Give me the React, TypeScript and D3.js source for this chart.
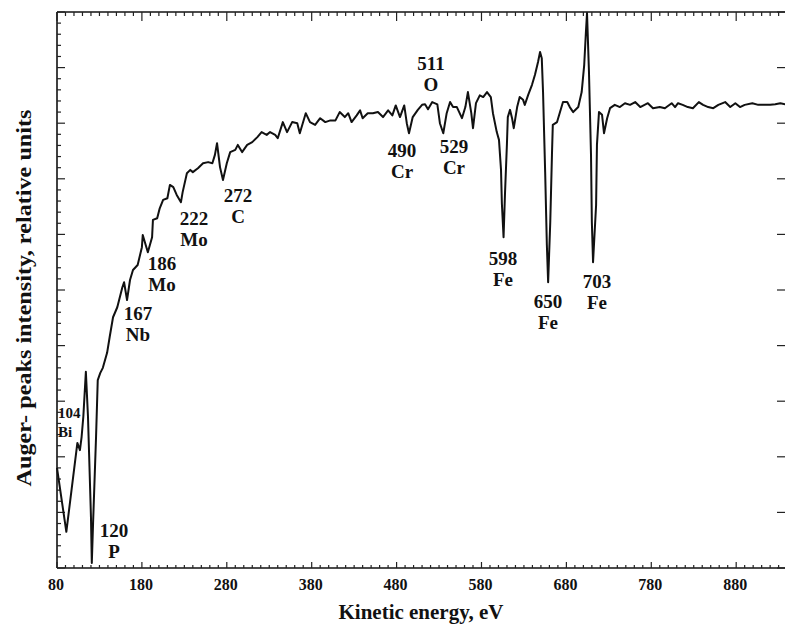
import React from 'react';
import * as d3 from 'd3';

// Auger spectrum (kinetic energy, eV / relative intensity)
const energy = [
  80, 91, 104, 107, 109, 111, 114, 116.5, 120, 121, 122.5, 126, 128, 131, 134, 139, 142, 146, 151, 157,
  159, 162.5, 166, 169.5, 175, 180, 181, 187, 192, 193, 198, 201, 205, 210, 213, 217, 221, 226, 228, 233,
  237, 240, 246, 252, 258, 263, 266, 268.5, 272, 275.5, 280, 284, 290, 293, 298, 304, 310, 316, 321, 327,
  331, 337, 340, 346, 351, 357, 363, 366, 373, 378, 384, 390, 396, 402, 408, 413, 419, 423, 427, 433,
  437, 440, 446, 452, 458, 464, 470, 475, 479, 484, 489, 492, 494.6, 499, 505, 510, 513.5, 517, 522, 528,
  531, 535, 539, 543, 546.5, 551, 557, 561, 564, 568, 570, 573.5, 578, 582, 586.5, 591, 593.5, 598, 600.6, 603,
  604, 606, 607.7, 610, 611, 613.6, 616, 618, 622, 625, 629, 631, 635, 639.5, 643, 646.6, 649, 651, 652.5, 655,
  657, 658.5, 661, 663, 664, 669, 672.5, 676, 681, 684, 688, 694, 698, 701, 703, 704.3, 706.6, 709, 710, 711.4,
  715, 716, 718.4, 722, 724.3, 728, 731.4, 737, 743, 749, 755, 761, 767, 776, 782, 790, 796, 804, 808, 811.5,
  817, 823, 829, 836, 841, 847, 853, 859, 867, 873, 879, 884.5, 890, 899, 906, 914, 920, 926, 932, 938,
];
const intensity = [
  1.8, 0.65, 2.25, 2.12, 2.36, 2.72, 3.53, 2.72, 0.92, 0.09, 0.81, 2.36, 3.38, 3.51, 3.6, 3.87, 4.15, 4.51, 4.69, 5.05,
  5.14, 4.82, 5.18, 5.36, 5.45, 5.77, 5.99, 5.68, 5.95, 6.26, 6.29, 6.47, 6.62, 6.65, 6.89, 6.85, 6.71, 6.58, 6.76, 7.1,
  7.16, 7.12, 7.19, 7.28, 7.3, 7.28, 7.43, 7.64, 7.21, 6.98, 7.28, 7.48, 7.52, 7.61, 7.48, 7.61, 7.66, 7.75, 7.84, 7.79,
  7.84, 7.79, 7.73, 8.02, 7.84, 8.02, 8.0, 7.82, 8.18, 8.02, 7.97, 8.09, 8.02, 8.05, 8.05, 8.2, 8.11, 8.18, 8.02, 8.14,
  8.23, 8.09, 8.18, 8.18, 8.2, 8.11, 8.23, 8.14, 8.32, 8.11, 8.32, 8.0, 7.82, 8.11, 8.24, 8.33, 8.34, 8.25, 8.38, 8.34,
  8.0, 7.82, 8.18, 8.38, 8.29, 8.29, 8.09, 8.29, 8.56, 8.18, 7.91, 8.36, 8.5, 8.47, 8.56, 8.47, 8.18, 7.84, 7.7, 7.16,
  6.56, 5.95, 6.74, 7.64, 8.11, 8.24, 8.09, 7.91, 8.29, 8.47, 8.42, 8.33, 8.51, 8.69, 8.87, 9.1, 9.28, 9.17, 8.56, 7.12,
  5.81, 5.14, 6.22, 7.43, 7.97, 8.02, 8.2, 8.38, 8.38, 8.29, 8.2, 8.29, 8.56, 9.05, 9.64, 9.98, 8.92, 7.43, 6.22, 5.5,
  6.53, 7.61, 8.2, 8.15, 7.82, 8.09, 8.27, 8.33, 8.29, 8.36, 8.33, 8.38, 8.29, 8.36, 8.27, 8.29, 8.27, 8.36, 8.29, 8.36,
  8.33, 8.29, 8.27, 8.38, 8.33, 8.29, 8.27, 8.33, 8.38, 8.29, 8.36, 8.29, 8.33, 8.36, 8.33, 8.33, 8.33, 8.34, 8.36, 8.34,
];

// peak annotations: energy label, element, and where the label sits (data units)
const peakLabels = ['104', '120', '167', '186', '222', '272', '490', '511', '529', '598', '650', '703'];
const peakElements = ['Bi', 'P', 'Nb', 'Mo', 'Mo', 'C', 'Cr', 'O', 'Cr', 'Fe', 'Fe', 'Fe'];
const labelAtEnergy = [81.2, 147.1, 175.4, 203.7, 241.4, 293.2, 486.4, 520.5, 547.6, 605.3, 658.3, 716.1];
const labelAtIntensity = [2.7, 0.56, 4.46, 5.36, 6.17, 6.58, 7.39, 8.96, 7.46, 5.45, 4.68, 5.04];

const xTickLabels = ['80', '180', '280', '380', '480', '580', '680', '780', '880'];

const W = 785;
const H = 625;
const margin = { top: 12, right: 0, bottom: 57, left: 57 };
const font = '"Liberation Serif", "Times New Roman", serif';

export default function App() {
  const x = d3.scaleLinear().domain([80, 937.5]).range([margin.left, W - margin.right]);
  const y = d3.scaleLinear().domain([0, 10]).range([H - margin.bottom, margin.top]);

  const line = d3
    .line<number>()
    .x((_, i) => x(energy[i]))
    .y((d) => y(d));

  const xMinor = d3.range(80, 940, 10);
  const xMajor = xTickLabels.map(Number);
  const yMinor = d3.range(0, 10.001, 0.2);
  const yMajor = d3.range(0, 11, 1);

  const [x0, x1] = x.range();
  const [yb, yt] = y.range();

  return (
    <svg
      width={W}
      height={H}
      style={{ position: 'absolute', left: 0, top: 0, background: '#fff' }}
      fontFamily={font}
    >
      {/* frame */}
      <g stroke="#111" strokeWidth={1.6} fill="none">
        <line x1={x0} y1={yt} x2={x1} y2={yt} />
        <line x1={x0} y1={yb} x2={x1} y2={yb} />
        <line x1={x0} y1={yt} x2={x0} y2={yb} />
      </g>

      {/* x ticks, top and bottom */}
      <g stroke="#222" strokeWidth={1.2}>
        {xMinor.map((e) => {
          const major = e % 100 === 80;
          return (
            <g key={'x' + e}>
              <line x1={x(e)} x2={x(e)} y1={yt} y2={yt + (major ? 9 : 4)} />
              <line x1={x(e)} x2={x(e)} y1={yb} y2={yb - (major ? 6 : 3)} />
            </g>
          );
        })}
      </g>

      {/* y ticks, left and right */}
      <g stroke="#222" strokeWidth={1.2}>
        {yMinor.map((v, i) => {
          const major = i % 5 === 0;
          return <line key={'y' + i} x1={x0} x2={x0 + (major ? 8 : 4)} y1={y(v)} y2={y(v)} />;
        })}
        {yMajor.map((v) => (
          <line key={'r' + v} x1={x1} x2={x1 - 8} y1={y(v)} y2={y(v)} />
        ))}
      </g>

      {/* x tick labels */}
      <g fontSize={16} fontWeight="bold" textAnchor="middle" fill="#111">
        {xMajor.map((e, i) => (
          <text key={'l' + e} x={x(e) - 1} y={590}>
            {xTickLabels[i]}
          </text>
        ))}
      </g>

      {/* spectrum */}
      <path d={line(intensity) ?? ''} fill="none" stroke="#111" strokeWidth={2} strokeLinejoin="round" />

      {/* peak labels */}
      <g fontWeight="bold" fill="#111">
        {peakLabels.map((p, i) => {
          const first = i === 0;
          const lx = x(labelAtEnergy[i]);
          const ly = y(labelAtIntensity[i]);
          return (
            <text
              key={'p' + p}
              textAnchor={first ? 'start' : 'middle'}
              fontSize={first ? 15 : 19}
            >
              <tspan x={lx} y={ly}>{p}</tspan>
              <tspan x={lx} y={ly + (first ? 19 : 21)}>{peakElements[i]}</tspan>
            </text>
          );
        })}
      </g>

      {/* axis titles */}
      <text x={421} y={619} textAnchor="middle" fontSize={21} fontWeight="bold" fill="#111">
        Kinetic energy, eV
      </text>
      <text
        transform={`translate(31, 298) rotate(-90)`}
        textAnchor="middle"
        fontSize={21}
        fontWeight="bold"
        fill="#111"
        textLength={377}
        lengthAdjust="spacingAndGlyphs"
      >
        Auger- peaks intensity, relative units
      </text>
    </svg>
  );
}
